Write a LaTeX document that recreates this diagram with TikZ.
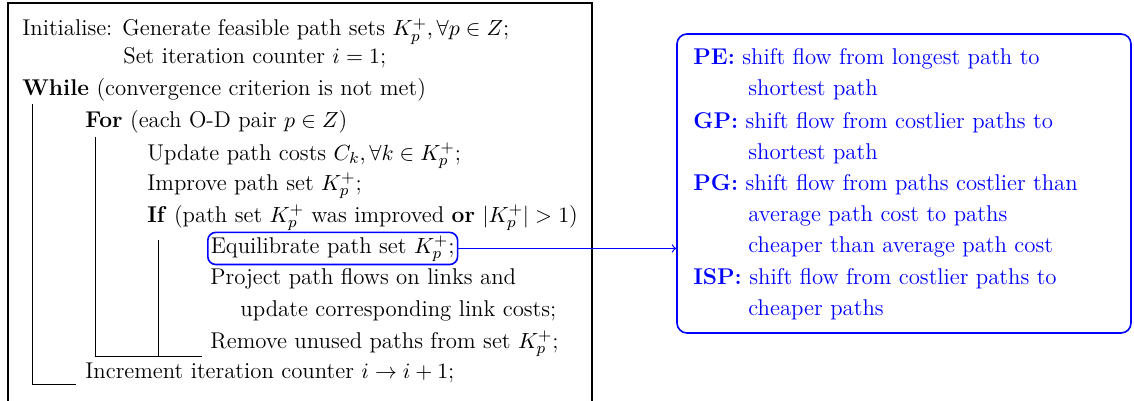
\documentclass[tikz,border=0pt]{standalone}
\usepackage{amsmath}
\usepackage{amssymb}
\usepackage{xcolor}
\usetikzlibrary{arrows.meta, positioning, calc}

\begin{document}
\begin{tikzpicture}[
    x=0.5pt, y=-0.5pt,
    font=\fontsize{11.4}{14}\selectfont,
    >=to,
    algline/.style={anchor=base west, inner sep=0pt},
    noteline/.style={anchor=base west, inner sep=0pt, text=blue},
    bar/.style={line width=0.5pt},
    hilite/.style={draw=blue, line width=0.8pt, rounded corners=4pt, inner sep=1.5pt},
    notebox/.style={draw=blue, line width=0.8pt, rounded corners=5pt,
      minimum width=227pt, minimum height=149.5pt}
]
\useasboundingbox (0,0) rectangle (1134,401);

% algorithm frame
\draw[line width=0.6pt] (8,3) rectangle (592,404);

\node[algline] (init) at (22,36) {Initialise: Generate feasible path sets $K_p^+, \forall p \in Z$;};
\node[algline] (setit) at (123,64) {Set iteration counter $i = 1$;};
\node[algline] (while) at (22,96) {\textbf{While} (convergence criterion is not met)};
\node[algline] (for) at (85,127) {\textbf{For} (each O-D pair $p \in Z$)};
\node[algline] (update) at (147,160) {Update path costs $C_k, \forall k \in K_p^+$;};
\node[algline] (improve) at (147,190) {Improve path set $K_p^+$;};
\node[algline] (if) at (147,222) {\textbf{If} (path set $K_p^+$ was improved \textbf{or} $|K_p^+| > 1$)};
\node[algline, hilite] (equil) at (207,253) {Equilibrate path set $K_p^+$;};
\node[algline] (project) at (210,284) {Project path flows on links and};
\node[algline] (linkcost) at (240,316) {update corresponding link costs;};
\node[algline] (remove) at (210,348) {Remove unused paths from set $K_p^+$;};
\node[algline] (incr) at (85,378) {Increment iteration counter $i \to i+1$;};

% loop bars
\draw[bar] (32,104) |- (76,384);
\draw[bar] (95,137) |- (202,356);
\draw[bar] (158,240) -- (158,356);

% equilibration methods
\node[notebox] (notes) at (904,183.5) {};
\node[noteline] (pe) at (693,65) {\textbf{PE:} shift flow from longest path to};
\node[noteline] (pe2) at (748,96) {shortest path};
\node[noteline] (gp) at (693,128) {\textbf{GP:} shift flow from costlier paths to};
\node[noteline] (gp2) at (748,159) {shortest path};
\node[noteline] (pg) at (693,190) {\textbf{PG:} shift flow from paths costlier than};
\node[noteline] (pg2) at (748,221) {average path cost to paths};
\node[noteline] (pg3) at (748,252) {cheaper than average path cost};
\node[noteline] (isp) at (693,284) {\textbf{ISP:} shift flow from costlier paths to};
\node[noteline] (isp2) at (748,315) {cheaper paths};

\draw[->, blue, line width=0.6pt] (equil.east) -- (equil.east -| notes.west);
\end{tikzpicture}
\end{document}
